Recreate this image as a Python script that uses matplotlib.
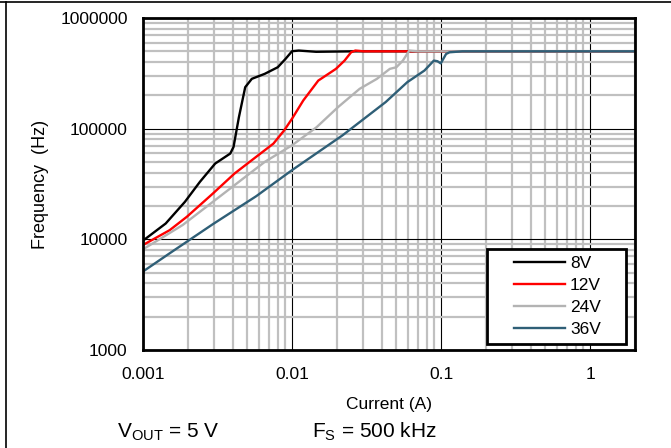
import numpy as np
import matplotlib
matplotlib.use("Agg")
import matplotlib.pyplot as plt
from matplotlib.ticker import LogLocator, NullFormatter
from matplotlib.lines import Line2D
from matplotlib.patches import Rectangle

plt.rcParams['font.family'] = ['Liberation Sans', 'DejaVu Sans']

# Load current (A) and switching frequency (Hz) for each input voltage
i_8v = [0.001, 0.00142, 0.00191, 0.00241, 0.00305, 0.00385, 0.00405, 0.0044, 0.00485,
        0.00537, 0.00656, 0.00802, 0.00904, 0.0100, 0.0111, 0.0145, 0.0266, 2.0]
f_8v = [9730, 13900, 21800, 33100, 48400, 59600, 68400, 127000, 237000,
        282000, 313000, 359000, 427000, 501000, 508000, 495000, 500000, 500000]

i_12v = [0.001, 0.00151, 0.00197, 0.00294, 0.00411, 0.00574, 0.0075, 0.00886, 0.0100,
         0.0119, 0.0150, 0.0197, 0.0225, 0.0249, 0.0266, 0.0302, 2.0]
f_12v = [8890, 12100, 16000, 25900, 39300, 55600, 73300, 96600, 123000,
         180000, 272000, 347000, 412000, 490000, 508000, 500000, 500000]

i_24v = [0.001, 0.00132, 0.00185, 0.00294, 0.0044, 0.00656, 0.0100, 0.0146, 0.0204,
         0.0284, 0.0371, 0.0453, 0.0501, 0.0554, 0.0612, 0.0700, 2.0]
f_24v = [8130, 10200, 13500, 21800, 33100, 50100, 70800, 103000, 157000,
         229000, 282000, 347000, 359000, 412000, 508000, 500000, 500000]

i_36v = [0.001, 0.00151, 0.00294, 0.00574, 0.0100, 0.0218, 0.0425, 0.0593, 0.0773,
         0.0894, 0.0945, 0.0995, 0.108, 0.114, 0.139, 2.0]
f_36v = [5120, 7480, 13700, 24500, 42200, 87000, 174000, 263000, 335000,
         412000, 407000, 389000, 473000, 490000, 500000, 500000]

series = [
    ("8V", i_8v, f_8v, "black"),
    ("12V", i_12v, f_12v, "#ff0000"),
    ("24V", i_24v, f_24v, "#b3b3b3"),
    ("36V", i_36v, f_36v, "#2f5f77"),
]

x_ticks = [0.001, 0.01, 0.1, 1]
x_labels = ["0.001", "0.01", "0.1", "1"]
y_ticks = [1000, 10000, 100000, 1000000]
y_labels = ["1000", "10000", "100000", "1000000"]

fig = plt.figure(figsize=(6.71, 4.48), dpi=100)
ax = fig.add_axes([143 / 671, 1 - 350 / 448, (635 - 143) / 671, (350 - 18) / 448])

for label, x, y, color in series:
    ax.plot(x, y, color=color, lw=1.7, label=label)

ax.set_xscale('log')
ax.set_yscale('log')
ax.set_xlim(0.001, 2)
ax.set_ylim(1000, 1000000)

ax.set_xticks(x_ticks, x_labels)
ax.set_yticks(y_ticks, y_labels)
ax.xaxis.set_minor_locator(LogLocator(base=10, subs=np.arange(2, 10)))
ax.yaxis.set_minor_locator(LogLocator(base=10, subs=np.arange(2, 10)))
ax.xaxis.set_minor_formatter(NullFormatter())
ax.yaxis.set_minor_formatter(NullFormatter())
ax.tick_params(which='both', length=0, labelsize=12.5)
ax.tick_params(axis='x', pad=12)
ax.tick_params(axis='y', pad=11)

ax.grid(which='minor', color='#c0c0c0', lw=1.6)
ax.grid(which='major', color='black', lw=0.8)
ax.set_axisbelow(True)
for sp in ax.spines.values():
    sp.set_linewidth(2)

ax.set_xlabel("Current (A)", fontsize=12.5, labelpad=11)
ax.set_ylabel("Frequency  (Hz)", fontsize=13, labelpad=8)

# legend box
ax.add_patch(Rectangle((0.699, 0.018), 0.2827, 0.286, transform=ax.transAxes,
                       facecolor='white', edgecolor='black', lw=2, zorder=5))
leg = ax.legend(loc='center', bbox_to_anchor=(0.843, 0.161), fontsize=12.5,
                frameon=False, handlelength=2.9, handletextpad=0.3,
                labelspacing=0.38, borderpad=0)
leg.set_zorder(6)

fig.text(117 / 671, 1 - 432 / 448, r"V$_{\mathregular{OUT}}$ = 5 V", fontsize=15, va='center')
fig.text(312 / 671, 1 - 432 / 448, r"F$_{\mathregular{S}}$ = 500 kHz", fontsize=15, va='center')

# outer frame lines (top and left)
fig.add_artist(Line2D([0, 1], [1 - 2 / 448, 1 - 2 / 448], color='black', lw=1.2, transform=fig.transFigure))
fig.add_artist(Line2D([6 / 671, 6 / 671], [0, 1 - 2 / 448], color='black', lw=1.2, transform=fig.transFigure))

fig.savefig("out.png", dpi=100)
